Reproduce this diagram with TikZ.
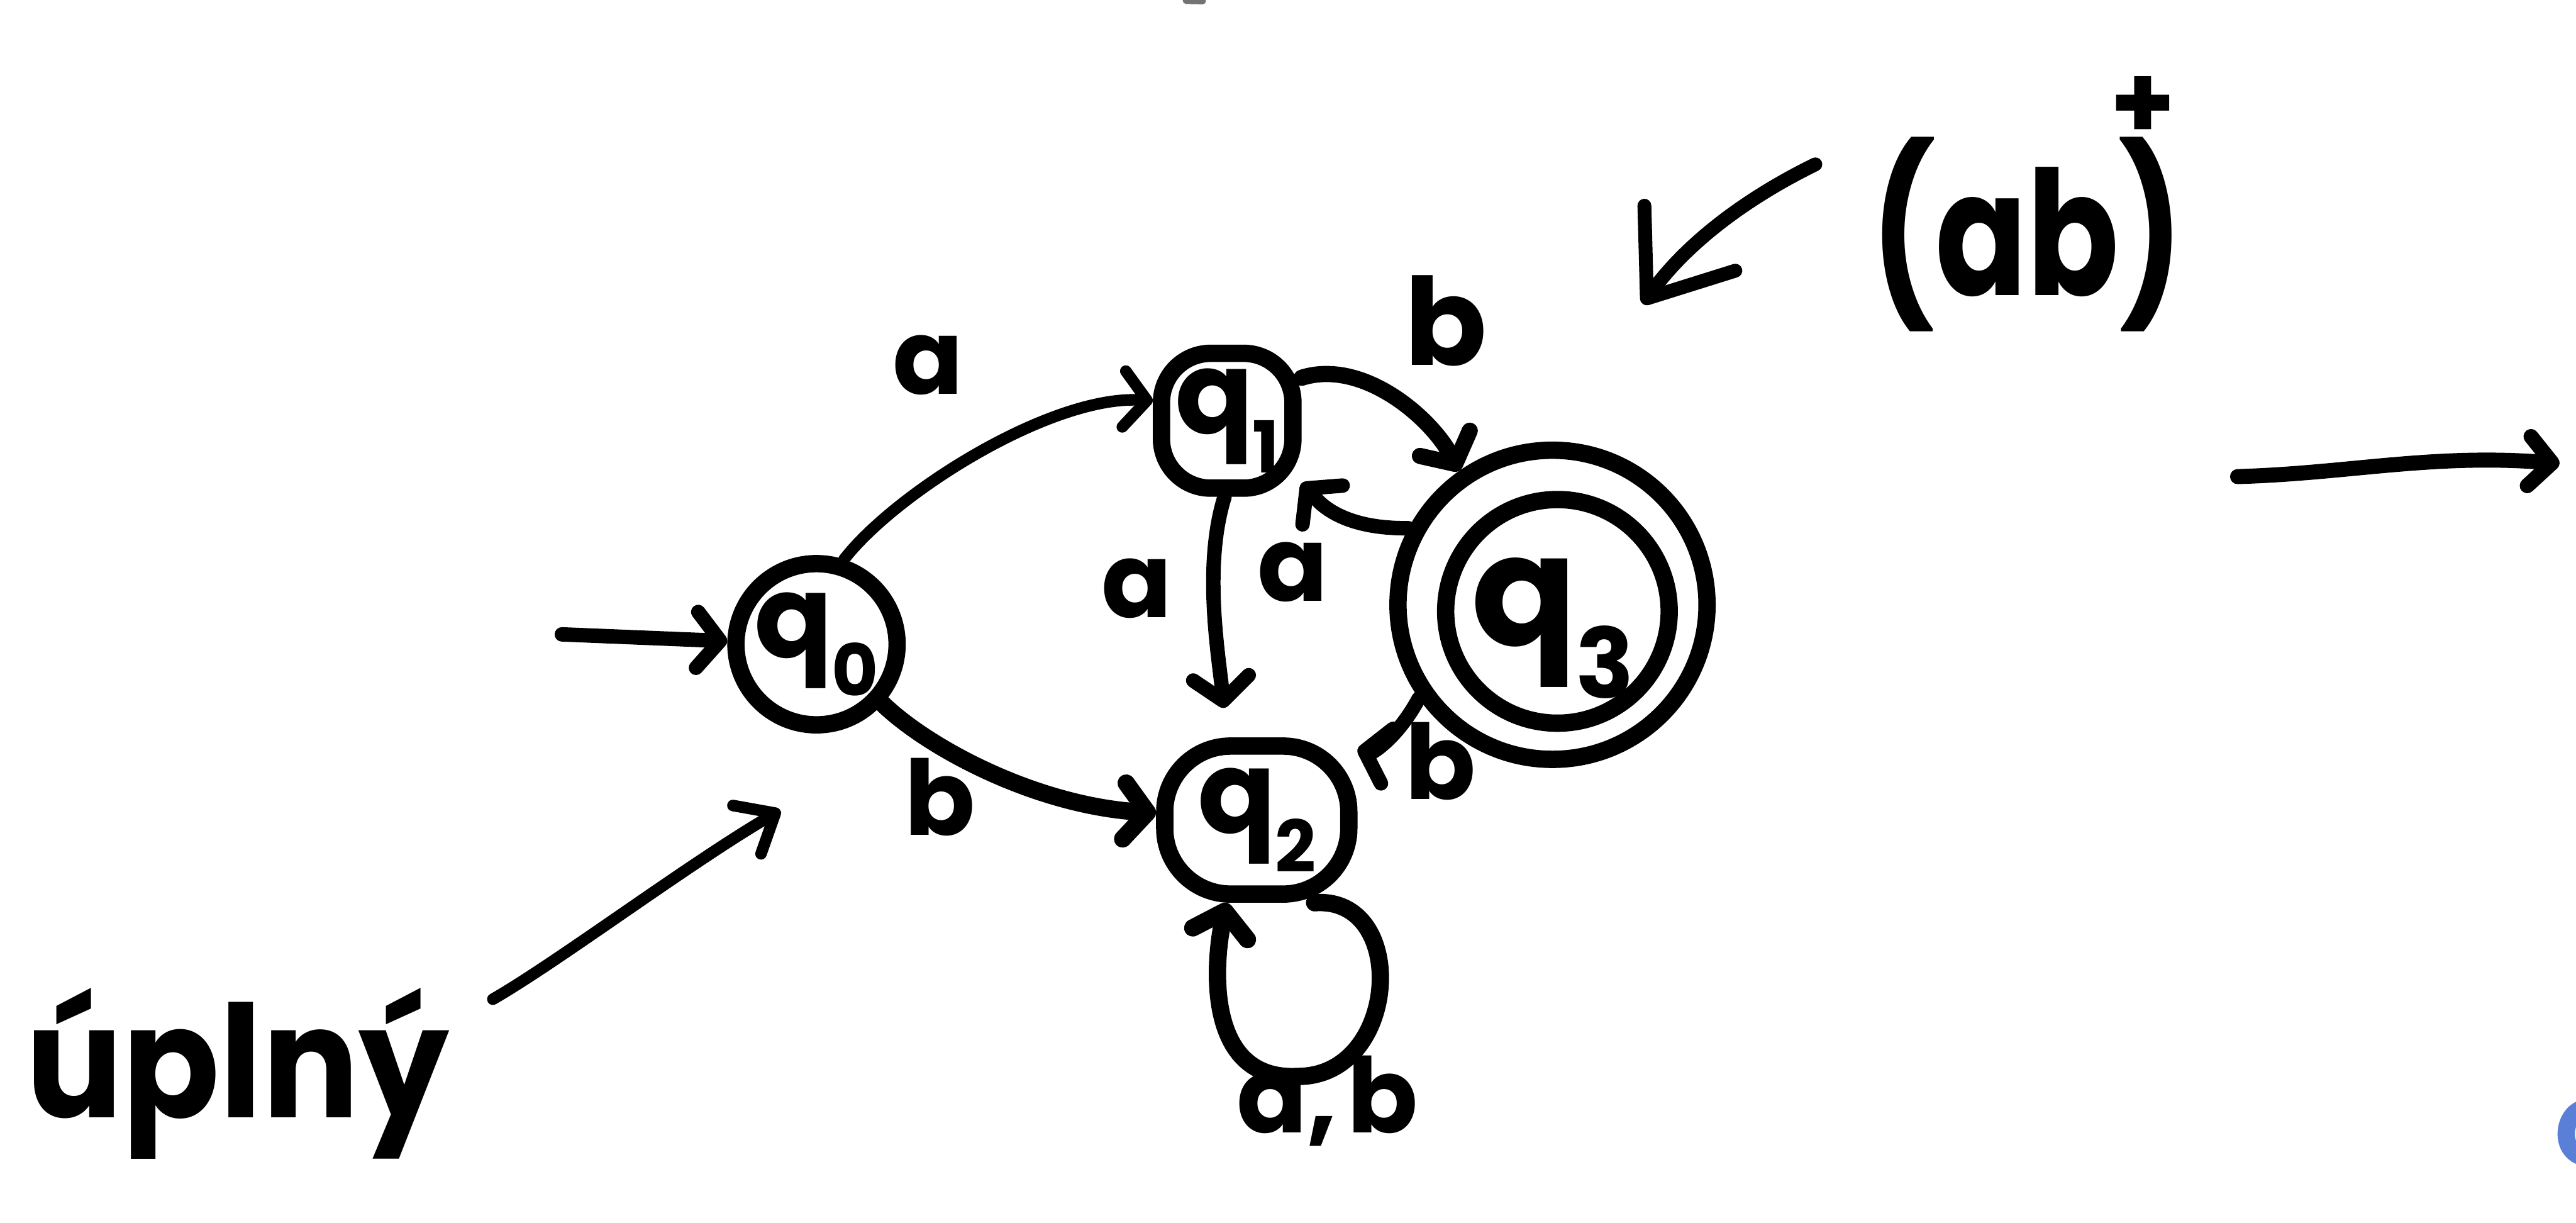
\documentclass[tikz,border=0pt]{standalone}
\usepackage{fontspec}
\setmainfont{Poppins}
\usetikzlibrary{arrows.meta}

\definecolor{penblue}{HTML}{5A7FD6}

\newcommand{\qsub}[1]{q\kern-0.01em\raisebox{-0.6ex}{\scalebox{0.62}{#1}}}

\tikzset{
  hand/.style={line cap=round, line join=round},
  statebox/.style={draw, line width=3pt, inner sep=0pt,
    font=\fontsize{20}{20}\selectfont\bfseries},
  barb/.style={-{Straight Barb[length=0.14cm, width=0.34cm, round]}},
  edge/.style={hand, line width=2.5pt, barb},
  lbl/.style={inner sep=0pt, font=\fontsize{18}{18}\selectfont\bfseries},
  bigtext/.style={inner sep=0pt, font=\fontsize{30}{30}\selectfont\bfseries},
}

\begin{document}
\begin{tikzpicture}[x=0.01cm, y=-0.01cm]
\useasboundingbox (0,0) rectangle (1568,744);

% states
\node[statebox, circle, minimum size=0.88cm] (q0) at (497,392) {\qsub{0}};
\node[statebox, rectangle, rounded corners=0.3cm, minimum width=0.8cm,
      minimum height=0.82cm] (q1) at (747,256) {\qsub{1}};
\node[statebox, rectangle, rounded corners=0.4cm, minimum width=1.12cm,
      minimum height=0.9cm] (q2) at (765,499) {\qsub{2}};
\node[statebox, circle, minimum size=1.88cm, text height=0.5cm, text depth=0cm,
      font=\fontsize{27}{27}\selectfont\bfseries] (q3) at (945,368) {\qsub{3}};
\draw[line width=3pt] ([shift={(3,4)}]q3.center) circle[radius=0.68cm];

% start arrow
\coordinate (init) at (342,386);
\draw[edge] (init) -- (q0.178);

% transitions
\draw[edge, line width=2pt] (q0.72) .. controls (545,300) and (640,240) .. (q1.165);
\draw[edge, line width=3pt] (q0.-42) .. controls (565,455) and (630,490) .. (q2.176);
\draw[edge, shorten >=0.18cm] (q1.-92) .. controls (732,345) and (742,400) .. (q2.110);
\draw[edge] (q3.152) .. controls (812,322) and (800,302) .. (q1.-40);
\draw[edge, line width=2.8pt] (q1.30) .. controls (830,218) and (872,255) .. (q3.125);
\draw[edge] (q3.215) .. controls (850,450) and (835,458) .. (q2.35);
\draw[edge, line width=3pt] (q2.-55) .. controls (858,545) and (852,655) .. (790,655)
      .. controls (735,658) and (738,590) .. (q2.-110);

% transition labels
\node[lbl] (l01) at (565,222) {a};
\node[lbl] (l02) at (572,485) {b};
\node[lbl] (l12) at (692,358) {a};
\node[lbl] (l31) at (787,348) {a};
\node[lbl, font=\fontsize{21}{21}\selectfont\bfseries] (l13) at (880,195) {b};
\node[lbl] (l32) at (877,463) {b};
\node[lbl] (l22) at (808,670) {a,\kern0.1em b};

% annotation: language of the automaton
\node[bigtext, anchor=west] (abplus) at (1138,124)
  {\scalebox{0.78}[1]{(ab)}\kern-0.42em\raisebox{27pt}{\scalebox{0.6}{+}}};
\coordinate (abtip) at (1000,185);
\draw[hand, line width=2.4pt, -{Straight Barb[length=0.45cm, width=0.68cm, round]}]
  (1105,100) .. controls (1060,122) and (1025,150) .. (abtip);

% annotation: complete automaton
\node[bigtext, font=\fontsize{27}{27}\selectfont\bfseries, anchor=base west] (uplny) at (15,680) {\scalebox{0.92}[1]{úplný}};
\coordinate (uptail) at (300,608);
\coordinate (uphead) at (475,493);
\draw[hand, line width=2pt, -{Straight Barb[length=0.2cm, width=0.34cm, round]}]
  (uptail) .. controls (340,585) and (420,525) .. (uphead);

% arrow towards the next part
\coordinate (rtail) at (1362,290);
\coordinate (rhead) at (1558,282);
\draw[hand, line width=2.6pt, -{Straight Barb[length=0.14cm, width=0.3cm, round]}]
  (rtail) .. controls (1430,288) and (1480,276) .. (rhead);

% stray marks at the edges
\draw[penblue, line width=3pt, line cap=round]
  (1574,674) .. controls (1560,676) and (1557,700) .. (1572,704);
\draw[black!55, line width=1.2pt, line cap=round] (722,0.3) -- (732,0.5);
\end{tikzpicture}
\end{document}
